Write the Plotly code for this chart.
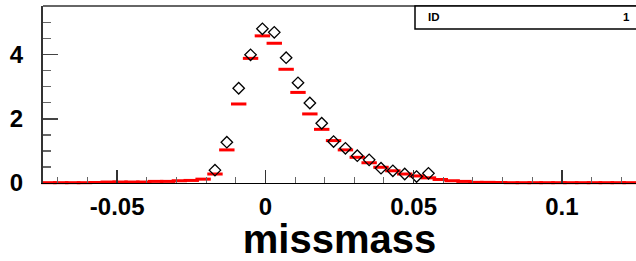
import plotly.graph_objects as go

# histogram binning (50 bins)
x_min = -0.075
bin_width = 0.004
n_bins = 50

# red histogram bin contents
red_values = [0.01, 0.01, 0.01, 0.01, 0.015,
              0.03, 0.03, 0.03, 0.03,
              0.05, 0.05, 0.07, 0.08, 0.12,
              0.28, 1.03, 2.46, 3.88, 4.58, 4.35, 3.54, 2.82, 2.15, 1.67,
              1.32, 1.03, 0.80, 0.63, 0.49, 0.38, 0.28, 0.22, 0.16, 0.11,
              0.07, 0.05,
              0.02, 0.02, 0.015, 0.01, 0.01, 0.01, 0.01, 0.01, 0.01, 0.01,
              0.01, 0.01, 0.01, 0.01]

# black diamond points (None = empty bin)
diamond_values = [None] * 14 + [0.40, 1.27, 2.95, 3.99, 4.80, 4.69, 3.90, 3.12,
                                2.49, 1.86, 1.29, 1.08, 0.85, 0.72, 0.46, 0.38,
                                0.28, 0.20, 0.30] + [None] * 17

x_tick_vals = [-0.05, 0, 0.05, 0.1]
x_tick_text = ["-0.05", "0", "0.05", "0.1"]
y_tick_vals = [0, 2, 4]
y_tick_text = ["0", "2", "4"]

stats_label = "ID"
stats_value = "1"
x_title = "missmass"

centers = [x_min + bin_width * (i + 0.5) for i in range(n_bins)]

FONT = "Liberation Sans, Arial, sans-serif"

fig = go.Figure()
fig.add_trace(go.Scatter(
    x=centers, y=red_values, mode="markers",
    marker=dict(symbol="line-ew", size=11, color="#ff0000",
                line=dict(color="#ff0000", width=3)),
    cliponaxis=False, showlegend=False, hoverinfo="skip"))
fig.add_trace(go.Scatter(
    x=centers, y=diamond_values, mode="markers",
    marker=dict(symbol="diamond-open", size=8.8, color="black",
                line=dict(color="black", width=1.3)),
    showlegend=False))

fig.update_layout(
    width=636, height=261,
    margin=dict(l=43, r=0, t=6, b=78, autoexpand=False),
    paper_bgcolor="white", plot_bgcolor="white",
    font=dict(family=FONT, color="black"),
)
fig.update_xaxes(
    range=[-0.075, 0.125], showgrid=False, zeroline=False, automargin=False,
    showline=True, linecolor="black", linewidth=1, mirror=False,
    showspikes=False,
    ticks="inside", ticklen=13, tickwidth=1.5, tickcolor="#333",
    tickvals=x_tick_vals, ticktext=x_tick_text,
    tickfont=dict(size=24, family=FONT, weight="bold"),
    ticklabelstandoff=2,
    minor=dict(dtick=0.01, tick0=0, ticks="inside", ticklen=6,
               tickwidth=1, tickcolor="#666", showgrid=False),
    title=dict(text=x_title, font=dict(size=40, family=FONT, weight="bold"),
               standoff=0),
)
fig.update_yaxes(
    range=[0, 5.51], showgrid=False, zeroline=False, automargin=False,
    showline=True, linecolor="#333", linewidth=2, mirror=False,
    showspikes=False,
    ticks="inside", ticklen=15, tickwidth=1.5, tickcolor="#444",
    tickvals=y_tick_vals, ticktext=y_tick_text,
    tickfont=dict(size=24, family=FONT, weight="bold"),
    ticklabelstandoff=13,
    minor=dict(dtick=0.5, tick0=0, ticks="inside", ticklen=8,
               tickwidth=1.5, tickcolor="#666", showgrid=False),
)

# top frame line
fig.add_shape(type="line", xref="paper", yref="paper", x0=0, x1=1.02, y0=1, y1=1,
              line=dict(color="#333", width=1.5), layer="above")
# stats box
fig.add_shape(type="rect", xref="paper", yref="paper",
              x0=(415 - 43) / 593, x1=1.05, y0=(183 - 29) / 177, y1=1.0,
              line=dict(color="black", width=1.5), fillcolor="white", layer="above")
fig.add_annotation(xref="paper", yref="paper", x=(426 - 43) / 593, y=(183 - 17) / 177,
                   text=stats_label, showarrow=False, xanchor="left", yanchor="middle",
                   font=dict(size=11.5, family=FONT, weight="bold"))
fig.add_annotation(xref="paper", yref="paper", x=(632 - 43) / 593, y=(183 - 17) / 177,
                   text=stats_value, showarrow=False, xanchor="right", yanchor="middle",
                   font=dict(size=11.5, family=FONT, weight="bold"))

fig.write_html("out.html", config={"displayModeBar": False, "staticPlot": True},
               post_script="document.documentElement.style.overflow='hidden';"
                           "document.documentElement.style.margin='0';"
                           "document.body.style.margin='0';"
                           "document.body.style.padding='0';"
                           "document.body.style.overflow='hidden';")
